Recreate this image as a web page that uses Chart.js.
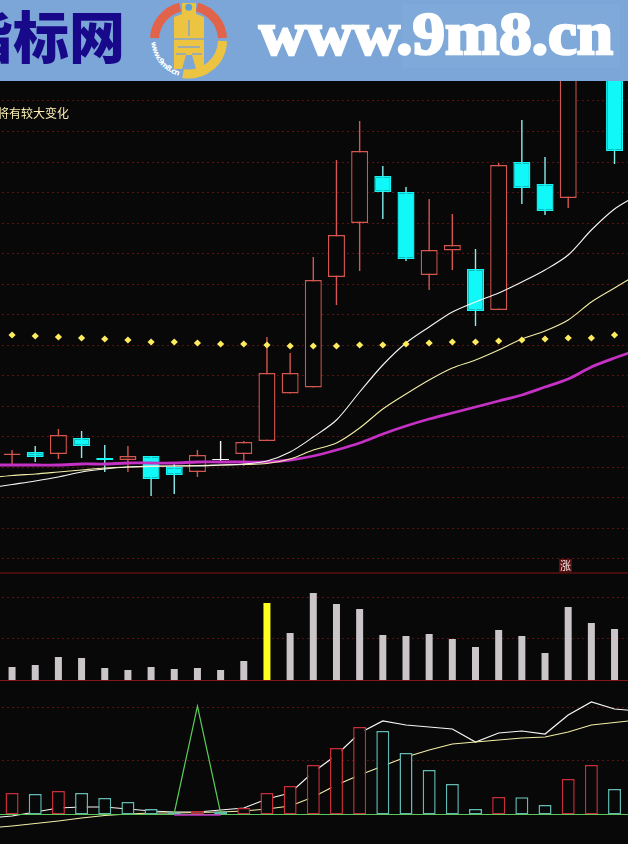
<!DOCTYPE html>
<html>
<head>
<meta charset="utf-8">
<script src="https://cdn.jsdelivr.net/npm/chart.js@4"></script>
<style>
html,body{margin:0;padding:0;background:#080808;}
#stage{position:relative;width:628px;height:844px;overflow:hidden;background:#080808;}
#stage canvas{position:absolute;left:-23px;}
#banner{position:absolute;left:0;top:0;width:628px;height:81px;}
#note{position:absolute;left:-3px;top:105px;font:12px/15px "Noto Sans CJK SC";color:#fff0b4;white-space:nowrap;}
#flag{position:absolute;left:559px;top:559px;width:13px;height:13px;background:#5a0f0f;color:#f4e8e8;font:11px/13px "Noto Sans CJK SC";text-align:center;}
</style>
</head>
<body>
<div id="stage">
<svg id="banner" width="628" height="81" viewBox="0 0 628 81">
  <rect width="628" height="81" fill="#7ba6d7"/>
  <rect x="402" y="4" width="218" height="64" fill="#ffffff" opacity="0.035"/>
  <text x="-43" y="58" textLength="168" lengthAdjust="spacingAndGlyphs" font-family="Noto Sans CJK SC" font-weight="900" font-size="56" fill="#17098a">指标网</text>
  <g fill="none" stroke-width="9">
    <path d="M154.5 38 A34 34 0 0 1 180 7.1" stroke="#e0634a"/>
    <path d="M197 7.1 A34 34 0 0 1 222.5 38" stroke="#e0634a"/>
    <path d="M222.5 41 A34 34 0 0 1 183 73.6" stroke="#edc442"/>
  </g>
  <polygon points="182,3 196,3 196,14 204,17 204,69 196,69 192,55 186,55 182,69 174,69 174,17 182,14" fill="#edc442"/>
  <circle cx="188.7" cy="7.3" r="3.5" fill="#5aa0d8"/>
  <g stroke="#8aa6c8" stroke-width="1.6">
    <line x1="174" y1="39" x2="204" y2="39"/><line x1="178" y1="47" x2="200" y2="47"/><line x1="176" y1="54" x2="186" y2="54"/><line x1="192" y1="54" x2="202" y2="54"/><line x1="189" y1="20" x2="189" y2="36"/>
  </g>
  <path id="ringText" d="M151.5 42 A37 37 0 0 0 180 76" fill="none"/>
  <text font-family="DejaVu Sans" font-weight="bold" font-size="7.5" fill="#ffffff"><textPath href="#ringText" textLength="46">www.9m8.cn</textPath></text>
  <text x="259" y="54" textLength="354" lengthAdjust="spacingAndGlyphs" font-family="Liberation Serif" font-weight="bold" font-size="62" fill="#ffffff" stroke="#ffffff" stroke-width="2.6">www.9m8.cn</text>
</svg>
<canvas id="priceChart" width="673" height="491" style="top:81px"></canvas>
<canvas id="volumeChart" width="673" height="110" style="top:572px"></canvas>
<canvas id="macdChart" width="673" height="162" style="top:682px"></canvas>
<div id="note">将有较大变化</div>
<div id="flag">涨</div>
</div>
<script>
// One hidden session on each side so the averages run off both edges of the picture.
const categories = Array.from({length:29},(_,i)=>String(i-1));

const opens  = [null,11.8,12.1,11.9,13.5,11.5,11.3,11.7,10.6,10.1,11.3,11.9,13.2,17.95,18.55,29.6,35,39.7,38.1,29.8,32.25,30.4,26.3,41.1,38.9,37.5,58,52,null];
const closes = [null,11.95,11.6,13.8,12.7,11.3,11.7,9.4,9.8,11.8,11.39,13.1,20,20,29.3,33.8,42.2,38.1,31.4,32.3,32.8,26.2,40.8,38.5,36.2,52,54,42.2,null];
const highs  = [null,12.3,12.7,14.4,14.2,12.8,12.7,11.7,11.1,12.3,13.2,13.2,23.6,22,31.6,41.3,45.2,40.7,38.6,37.4,35.9,32.4,41,45.3,41.6,53,59,53,null];
const lows   = [null,10.8,11.1,11.4,11.5,10.1,10.1,7.7,7.9,9.6,11,10.7,13.2,17.95,18.55,26.8,30.2,35.4,31.2,28.3,30.3,24.7,26.3,36.9,35.8,36.5,53.5,40.9,null];

const maFast = [8.5,8.85,9.2,9.6,10.1,10.4,10.6,10.7,10.7,10.7,10.8,10.9,11.2,12.1,13.6,15.3,18.1,20.8,23,24.6,26.1,27.1,28,29.1,30.3,31.8,34.3,36.4,37.8];
const maMid  = [9.5,9.75,9.9,10.1,10.3,10.5,10.6,10.65,10.7,10.75,10.8,10.85,10.95,11.4,12.3,13,14.5,16.4,17.9,19.3,20.5,21.3,22.3,23.4,24.2,25.3,27.1,28.5,29.9];
const maSlow = [10.8,10.8,10.8,10.8,10.9,10.9,11,11,11,11.1,11.1,11.1,11.1,11.3,11.7,12.3,13,13.9,14.7,15.4,16,16.6,17.2,17.8,18.6,19.4,20.6,21.5,22.3];
const signalDots = [null,23.8,23.7,23.6,23.5,23.4,23.3,23.1,23.1,23,22.9,22.9,22.8,22.7,22.7,22.7,22.8,22.8,22.9,23,23.1,23.1,23.2,23.3,23.4,23.5,23.5,23.8,null];
const priceGrid = [47.2,44.15,41.1,38.05,35,31.95,28.9,25.85,22.8,19.75,16.7,13.65,10.6,7.55,4.5,1.45];

const volumes = [null,135,155,235,225,125,105,135,115,125,105,195,775,475,875,765,715,455,445,465,415,335,505,445,275,735,575,515,null];
const volumeHighlight = 12;
const volumeGrid = [835,425];
const volumeFrame = 1075;

const macdBars = [null,2.15,2.05,2.35,2.15,1.65,1.25,0.55,0.2,0.35,0.3,0.65,2.15,2.85,4.95,6.65,8.75,8.35,6.15,4.45,3.05,0.55,1.75,1.72,0.95,3.55,4.95,2.55,null];
const dif = [-0.35,-0.15,0.25,0.65,0.75,0.75,0.55,0.35,0.25,0.25,0.45,0.65,1.55,2.15,4.25,5.95,8.15,9.35,8.95,8.75,8.55,7.25,8.15,8.35,8.05,9.95,11.25,10.55,10.35];
const dea = [-1.35,-1.15,-0.9,-0.65,-0.35,-0.1,0.05,0.15,0.15,0.2,0.25,0.35,0.55,0.85,1.75,2.95,3.95,4.85,5.75,6.45,7.05,7.25,7.45,7.65,7.75,8.25,8.95,9.2,9.45];
const spike = [null,null,null,null,null,null,null,null,0.15,10.85,0.15,null,null,null,null,null,null,null,null,null,null,null,null,null,null,null,null,null,null];
const spikeBase = [null,null,null,null,null,null,null,null,-0.05,-0.05,-0.05,null,null,null,null,null,null,null,null,null,null,null,null,null,null,null,null,null,null];
const macdGrid = [10.75,5.35];

const BG='#080808', RED='#d4564f', CYAN='#10f8f8', CYAN_WICK='#8aecec', WHITE='#f8f8f8', GRID='#581414', FRAME='#861414';

function candleColor(i,up,down){
  if(opens[i]===null) return up;
  if(Math.abs(closes[i]-opens[i])<0.1) return WHITE;
  return closes[i]>=opens[i]?up:down;
}
const pair=(a,b)=>a.map((v,i)=>v===null?null:[v,b[i]]);
const lineDs=(data,color,width,order,tension)=>({type:'line',data,borderColor:color,borderWidth:width,pointRadius:0,tension:tension||0,order,spanGaps:false});

function panelOptions(min,max,grid){
  return {
    responsive:false,animation:false,devicePixelRatio:1,
    layout:{autoPadding:false,padding:{left:0.3,right:0.7,top:0,bottom:0}},
    plugins:{legend:{display:false},tooltip:{enabled:false}},
    scales:{
      x:{type:'category',display:false,offset:true},
      y:{min,max,position:'left',
         afterBuildTicks:s=>{s.ticks=grid.map(v=>({value:v}));},
         ticks:{display:false},
         grid:{color:GRID,lineWidth:1,drawTicks:false},
         border:{display:false,dash:[2,3]}}
    }
  };
}

new Chart(document.getElementById('priceChart'),{
  type:'bar',
  data:{labels:categories,datasets:[
    {data:pair(lows,highs),grouped:false,barThickness:1.4,inflateAmount:0,order:6,
     backgroundColor:categories.map((_,i)=>candleColor(i,RED,CYAN_WICK))},
    {data:pair(opens,closes),grouped:false,barThickness:17,borderWidth:1.4,borderSkipped:false,inflateAmount:0,order:5,
     backgroundColor:categories.map((_,i)=>candleColor(i,BG,CYAN)),
     borderColor:categories.map((_,i)=>candleColor(i,RED,CYAN))},
    lineDs(maSlow,'#c431c4',2.8,4,0.3),
    lineDs(maMid,'#f2eda6',1.1,3,0.3),
    lineDs(maFast,'#f6f6f2',1.1,2,0.3),
    {type:'line',data:signalDots,showLine:false,pointStyle:'rectRot',pointRadius:3.6,pointBorderWidth:0,pointBackgroundColor:'#ffeb5e',order:1}
  ]},
  options:panelOptions(0.1,49.2,priceGrid)
});

new Chart(document.getElementById('volumeChart'),{
  type:'bar',
  data:{labels:categories,datasets:[
    {data:volumes,grouped:false,barThickness:7,inflateAmount:0,order:2,
     backgroundColor:categories.map((_,i)=>i===volumeHighlight?'#ffff1e':'#c9c5c9')},
    lineDs(categories.map(()=>0),FRAME,1,1),
    lineDs(categories.map(()=>volumeFrame),FRAME,1,1)
  ]},
  options:panelOptions(-15,1085,volumeGrid)
});

new Chart(document.getElementById('macdChart'),{
  type:'bar',
  data:{labels:categories,datasets:[
    lineDs(dif,'#f6f6f2',1.2,5),
    lineDs(dea,'#f2eda6',1.2,4),
    {data:macdBars,grouped:false,barThickness:13,borderWidth:1.5,borderSkipped:false,inflateAmount:0,order:3,
     backgroundColor:BG,
     borderColor:macdBars.map((v,i)=>(i<2||v===null||v>=macdBars[i-1])?'#c82e38':'#62bab2')},
    lineDs(categories.map(()=>0),'#5cc85c',1.2,2),
    lineDs(spike,'#56cc56',1.2,1),
    lineDs(spikeBase,'#c431c4',1.4,0)
  ]},
  options:panelOptions(-2.95,13.25,macdGrid)
});
</script>
</body>
</html>
